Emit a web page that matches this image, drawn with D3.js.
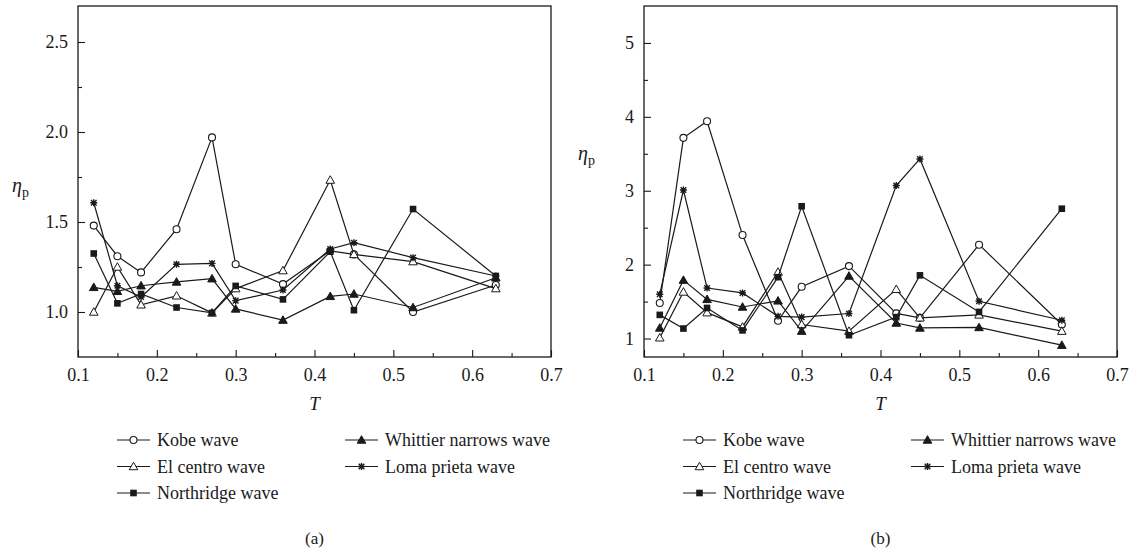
<!DOCTYPE html>
<html>
<head>
<meta charset="utf-8">
<script src="https://cdn.jsdelivr.net/npm/d3@7"></script>
<style>
  html, body { margin: 0; padding: 0; background: #fff; }
  svg { display: block; font-family: "Liberation Serif", "DejaVu Serif", serif; }
</style>
</head>
<body>
<svg id="chart" width="1135" height="550"></svg>
<script>
// Periods shared by both panels
const periods = [0.12, 0.15, 0.18, 0.225, 0.27, 0.3, 0.36, 0.42, 0.45, 0.525, 0.63];
const seriesNames = ["Kobe wave", "El centro wave", "Northridge wave", "Whittier narrows wave", "Loma prieta wave"];
const seriesSymbols = ["circle", "triangleOpen", "square", "triangle", "asterisk"];

// Panel (a) values
const kobeA       = [1.48, 1.31, 1.22, 1.46, 1.97, 1.265, 1.155, 1.34, 1.32, 1.0, 1.15];
const elCentroA   = [1.0, 1.25, 1.04, 1.09, 0.995, 1.13, 1.23, 1.733, 1.32, 1.28, 1.13];
const northridgeA = [1.325, 1.048, 1.10, 1.025, 0.995, 1.145, 1.07, 1.335, 1.01, 1.572, 1.2];
const whittierA   = [1.137, 1.115, 1.146, 1.167, 1.185, 1.017, 0.955, 1.087, 1.1, 1.025, 1.19];
const lomaA       = [1.607, 1.146, 1.083, 1.265, 1.27, 1.063, 1.122, 1.35, 1.385, 1.302, 1.2];

// Panel (b) values
const kobeB       = [1.48, 3.716, 3.94, 2.40, 1.24, 1.70, 1.98, 1.34, 1.28, 2.27, 1.19];
const elCentroB   = [1.01, 1.63, 1.35, 1.157, 1.9, 1.19, 1.10, 1.666, 1.28, 1.32, 1.10];
const northridgeB = [1.32, 1.135, 1.414, 1.11, 1.83, 2.79, 1.045, 1.29, 1.855, 1.36, 2.757];
const whittierB   = [1.143, 1.79, 1.53, 1.427, 1.51, 1.10, 1.846, 1.21, 1.143, 1.15, 0.91];
const lomaB       = [1.6, 3.01, 1.684, 1.617, 1.30, 1.29, 1.338, 3.07, 3.43, 1.504, 1.247];

// Axis ticks
const xTicks = [0.1, 0.2, 0.3, 0.4, 0.5, 0.6, 0.7];
const xMinorTicks = [0.15, 0.25, 0.35, 0.45, 0.55, 0.65];
const yTicksA = [1.0, 1.5, 2.0, 2.5];
const yMinorTicksA = [1.25, 1.75, 2.25];
const yTicksB = [1, 2, 3, 4, 5];
const yMinorTicksB = [1.5, 2.5, 3.5, 4.5];

const panels = [
  { caption: "(a)", left: 78, yDomain: [0.75, 2.7], yTicks: yTicksA, yMinor: yMinorTicksA, yFmt: d3.format(".1f"),
    series: [kobeA, elCentroA, northridgeA, whittierA, lomaA], labelY: 192 },
  { caption: "(b)", left: 644, yDomain: [0.75, 5.5], yTicks: yTicksB, yMinor: yMinorTicksB, yFmt: d3.format("d"),
    series: [kobeB, elCentroB, northridgeB, whittierB, lomaB], labelY: 160 }
];

const plotTop = 6, plotBottom = 357, plotW = 473;
const ink = "#1a1a1a";
const svg = d3.select("#chart");

function drawSymbol(g, type, x, y) {
  if (type === "circle") {
    g.append("circle").attr("cx", x).attr("cy", y).attr("r", 3.5)
      .attr("fill", "#fff").attr("stroke", ink).attr("stroke-width", 1.1);
  } else if (type === "square") {
    g.append("rect").attr("x", x - 3.3).attr("y", y - 3.3).attr("width", 6.6).attr("height", 6.6)
      .attr("fill", ink);
  } else if (type === "triangle" || type === "triangleOpen") {
    const s = 4.3;
    g.append("path")
      .attr("d", `M${x},${y - s}L${x + s},${y + s * 0.75}L${x - s},${y + s * 0.75}Z`)
      .attr("fill", type === "triangle" ? ink : "#fff")
      .attr("stroke", ink).attr("stroke-width", 1.0);
  } else if (type === "asterisk") {
    const s = 3.5, d = s * 0.8;
    g.append("path")
      .attr("d", `M${x - s},${y}L${x + s},${y}M${x},${y - s}L${x},${y + s}` +
                 `M${x - d},${y - d}L${x + d},${y + d}M${x - d},${y + d}L${x + d},${y - d}`)
      .attr("stroke", ink).attr("stroke-width", 1.4).attr("fill", "none");
  }
}

panels.forEach(p => {
  const x = d3.scaleLinear().domain([0.1, 0.7]).range([p.left, p.left + plotW]);
  const y = d3.scaleLinear().domain(p.yDomain).range([plotBottom, plotTop]);
  const g = svg.append("g");

  // Bottom axis: inward major and minor ticks
  g.append("g").attr("transform", `translate(0,${plotBottom})`)
    .call(d3.axisBottom(x).tickValues(xTicks).tickSize(-7).tickPadding(11).tickFormat(d3.format(".1f")));
  g.append("g").attr("transform", `translate(0,${plotBottom})`)
    .call(d3.axisBottom(x).tickValues(xMinorTicks).tickSize(-4).tickFormat(""));

  // Left axis
  g.append("g").attr("transform", `translate(${p.left},0)`)
    .call(d3.axisLeft(y).tickValues(p.yTicks).tickSize(-7).tickPadding(10).tickFormat(p.yFmt));
  g.append("g").attr("transform", `translate(${p.left},0)`)
    .call(d3.axisLeft(y).tickValues(p.yMinor).tickSize(-4).tickFormat(""));

  g.selectAll(".domain").remove();
  g.selectAll(".tick line").attr("stroke", ink).attr("stroke-width", 1.1);
  g.selectAll(".tick text").attr("fill", ink).style("font-size", "18px")
    .style("font-family", "'Liberation Serif', serif");

  // Frame
  g.append("rect").attr("x", p.left).attr("y", plotTop).attr("width", plotW).attr("height", plotBottom - plotTop)
    .attr("fill", "none").attr("stroke", ink).attr("stroke-width", 1.3);

  // Series lines and markers
  const line = d3.line().x((d, i) => x(periods[i])).y(d => y(d));
  p.series.forEach((vals, si) => {
    const sg = g.append("g");
    sg.append("path").datum(vals).attr("d", line)
      .attr("fill", "none").attr("stroke", ink).attr("stroke-width", 1.2);
    vals.forEach((v, i) => drawSymbol(sg, seriesSymbols[si], x(periods[i]), y(v)));
  });

  // Axis titles
  const cx = p.left + plotW / 2;
  g.append("text").attr("x", cx).attr("y", 410).attr("text-anchor", "middle")
    .style("font-size", "19px").style("font-style", "italic").attr("fill", ink).text("T");
  const yl = g.append("text").attr("x", p.left - 66).attr("y", p.labelY).attr("fill", ink)
    .style("font-size", "20px");
  yl.append("tspan").style("font-style", "italic").text("η");
  yl.append("tspan").attr("dy", 5).style("font-size", "14px").text("p");

  // Legend
  const legendPos = [
    { dx: 39, row: 0 }, { dx: 39, row: 1 }, { dx: 39, row: 2 },
    { dx: 267, row: 0 }, { dx: 267, row: 1 }
  ];
  seriesNames.forEach((name, si) => {
    const lp = legendPos[si];
    const lx = p.left + lp.dx, ly = 446 + lp.row * 26.5;
    const lg = g.append("g");
    lg.append("line").attr("x1", lx).attr("x2", lx + 33).attr("y1", ly - 6).attr("y2", ly - 6)
      .attr("stroke", ink).attr("stroke-width", 1.1);
    drawSymbol(lg, seriesSymbols[si], lx + 16.5, ly - 6);
    lg.append("text").attr("x", lx + 40).attr("y", ly).attr("fill", ink)
      .style("font-size", "18px").text(name);
  });

  // Panel caption
  g.append("text").attr("x", cx).attr("y", 544).attr("text-anchor", "middle")
    .style("font-size", "17px").attr("fill", ink).text(p.caption);
});
</script>
</body>
</html>
